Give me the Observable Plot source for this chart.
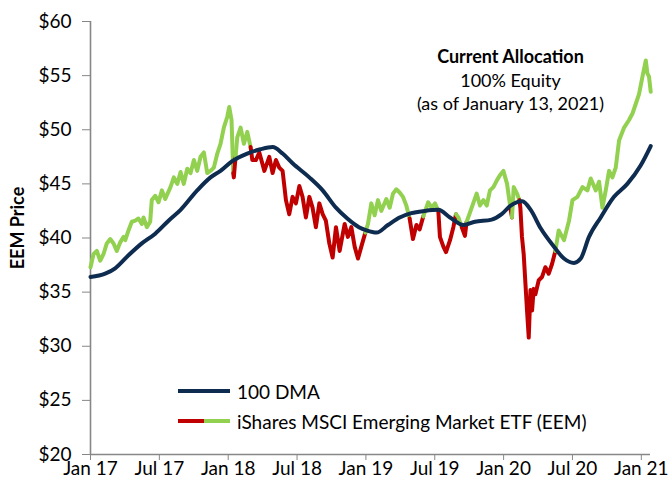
<!DOCTYPE html>
<html>
<head>
<meta charset="utf-8">
<script src="https://cdn.jsdelivr.net/npm/d3@7"></script>
<script src="https://cdn.jsdelivr.net/npm/@observablehq/plot@0.6"></script>
<style>
  body { margin: 0; background: #fff; }
  #wrap { position: relative; width: 669px; height: 491px; font-family: Lato, "Open Sans", sans-serif; }
  .leg { position: absolute; left: 178px; font-size: 19px; color: #000; display: flex; align-items: center; height: 30px; }
  .leg .sw { display: inline-block; height: 4px; }
  .leg span.t { margin-left: 7px; }
</style>
</head>
<body>
<div id="wrap"></div>
<script>
// X axis: months since Jan 2017, tick labels
const xTickMonths = [0, 6, 12, 18, 24, 30, 36, 42, 48];
const xTickLabels = ["Jan 17", "Jul 17", "Jan 18", "Jul 18", "Jan 19", "Jul 19", "Jan 20", "Jul 20", "Jan 21"];
const yTicks = [20, 25, 30, 35, 40, 45, 50, 55, 60];

// EEM price (months since Jan 2017, price)
const priceMonths = [0,0.26,0.55,0.85,1.13,1.42,1.72,2.01,2.29,2.59,
  2.88,3.03,3.31,3.60,3.90,4.18,4.47,4.62,4.91,5.20,
  5.34,5.64,5.93,6.22,6.51,6.97,7.26,7.56,7.85,8.13,
  8.43,8.72,9.01,9.30,9.59,9.88,10.17,10.46,10.75,11.05,
  11.33,11.62,11.92,12.09,12.29,12.44,12.49,12.64,12.79,13.08,
  13.37,13.66,13.95,14.10,14.41,14.71,15.15,15.58,15.87,16.16,
  16.45,16.74,17.03,17.32,17.61,17.90,18.20,18.48,18.77,19.07,
  19.35,19.64,19.94,20.23,20.51,20.81,21.10,21.39,21.71,22.15,
  22.43,22.73,23.02,23.31,23.60,23.95,24.18,24.47,24.76,25.05,
  25.34,25.78,26.07,26.36,26.65,26.94,27.23,27.52,27.81,28.10,
  28.40,28.68,29.00,29.43,29.73,30.02,30.31,30.45,30.75,30.98,
  31.33,31.62,31.85,32.06,32.35,32.63,32.78,33.22,33.65,33.94,
  34.24,34.53,34.81,35.11,35.40,35.68,35.98,36.30,36.59,36.73,
  36.88,37.17,37.38,37.46,37.60,37.75,37.90,38.04,38.19,38.34,
  38.48,38.62,38.77,39.06,39.35,39.64,39.93,40.22,40.51,40.80,
  41.26,41.70,42.00,42.43,42.87,43.30,43.59,44.03,44.32,44.61,
  44.90,45.19,45.48,45.77,46.06,46.50,46.93,47.23,47.52,47.80,
  48.10,48.39,48.53,48.67,48.82];
const priceValues = [37.3,38.5,38.8,37.9,38.5,39.5,39.9,39.5,38.8,39.6,
  40.1,39.8,40.7,41.5,41.6,41.8,41.3,41.9,41.0,41.5,
  43.5,43.9,43.3,44.4,43.6,44.7,45.6,45.0,46.1,45.0,
  46.4,46.0,47.2,46.2,47.5,47.9,46.0,46.2,46.5,47.8,
  48.7,50.2,51.2,52.1,50.9,46.0,45.6,47.5,49.3,50.2,
  48.7,49.8,48.4,47.2,47.2,47.9,46.2,47.5,46.0,47.2,
  46.5,46.2,43.5,42.2,43.8,43.2,44.8,43.8,41.9,43.8,
  42.8,41.0,43.2,42.2,41.6,39.5,38.2,41.0,38.8,41.3,
  40.1,41.0,39.2,38.1,39.2,40.5,41.3,43.2,42.1,43.5,
  42.5,43.6,42.8,44.1,44.5,44.2,43.8,43.0,41.8,39.9,
  41.2,40.8,42.0,43.3,42.8,43.2,42.5,40.1,39.2,38.7,
  39.8,41.0,42.2,41.9,41.0,40.2,41.5,42.8,44.1,43.0,
  43.5,43.0,44.4,44.7,45.3,45.8,46.2,45.0,42.8,41.9,
  44.7,44.1,43.5,42.8,40.1,38.5,35.8,33.3,30.8,35.2,
  33.3,35.3,34.8,36.1,36.4,37.3,36.7,37.6,38.8,40.7,
  39.8,41.6,43.5,43.8,44.7,44.4,45.5,44.4,45.2,42.8,
  44.4,46.2,45.6,46.5,49.0,50.2,50.9,51.5,52.4,53.3,
  54.9,56.4,55.2,54.9,53.5];

// 100-day moving average
const dmaMonths = [0,1.28,2.15,3.31,4.47,5.64,6.80,7.85,9.30,10.46,
  11.33,12.35,13.66,14.82,15.87,16.74,17.61,19.07,20.23,21.39,
  22.38,23.39,24.06,24.93,25.92,26.94,27.96,29.12,30.31,31.33,
  32.50,33.50,34.96,35.83,36.61,37.63,38.36,39.23,40.39,41.26,
  42.13,42.72,43.44,44.46,45.62,46.78,47.94,48.82];
const dmaValues = [36.4,36.7,37.2,38.4,39.5,40.4,41.6,42.6,44.4,45.6,
  46.2,47.1,47.8,48.2,48.4,47.8,46.9,45.6,44.4,42.8,
  41.8,41.0,40.7,40.5,41.2,41.9,42.3,42.5,42.6,41.9,
  41.2,41.5,41.7,42.2,43.0,43.4,42.6,40.9,39.2,38.1,
  37.7,38.1,40.1,41.9,43.8,45.0,46.7,48.5];

const GREEN = "#92D050", RED = "#C00000", NAVY = "#0E2B50";

const price = priceMonths.map((m, i) => ({m, v: priceValues[i]}));
const dma = dmaMonths.map((m, i) => ({m, v: dmaValues[i]}));

function dmaAt(m) {
  let j = 0;
  while (j < dmaMonths.length - 2 && dmaMonths[j + 1] < m) j++;
  const t = (m - dmaMonths[j]) / (dmaMonths[j + 1] - dmaMonths[j]);
  return dmaValues[j] + t * (dmaValues[j + 1] - dmaValues[j]);
}

// Split the price line into runs coloured by position relative to the DMA
const runs = [];
let run = -1, prevColor = null;
for (let i = 0; i < price.length - 1; i++) {
  const a = price[i], b = price[i + 1];
  const mm = (a.m + b.m) / 2, mv = (a.v + b.v) / 2;
  const color = mv >= dmaAt(mm) ? GREEN : RED;
  if (color !== prevColor) {
    run++;
    runs.push({m: a.m, v: a.v, run, color});
    prevColor = color;
  }
  runs.push({m: b.m, v: b.v, run, color});
}

const AX = "#878787";
const chart = Plot.plot({
  width: 669,
  height: 491,
  marginLeft: 90,
  marginRight: 19,
  marginTop: 21,
  marginBottom: 37,
  style: {fontFamily: "Lato, 'Open Sans', sans-serif", fontSize: "19px", color: "#000", background: "#fff", overflow: "visible"},
  x: {domain: [0, 48.8], label: null},
  y: {domain: [20, 60], label: null},
  marks: [
    Plot.axisX(xTickMonths, {tickFormat: d => xTickLabels[xTickMonths.indexOf(d)], tickSize: 6, tickPadding: 1, stroke: AX, label: null, fontSize: 19}),
    Plot.axisY(yTicks, {tickFormat: d => "$" + d, tickSize: 8, tickPadding: 11, stroke: AX, label: null, fontSize: 19}),
    Plot.ruleX([0], {stroke: AX, strokeWidth: 1.6}),
    Plot.ruleY([20], {stroke: AX, strokeWidth: 1.6}),
    Plot.line(runs, {x: "m", y: "v", z: "run", stroke: "color", strokeWidth: 4, strokeLinejoin: "round", strokeLinecap: "round"}),
    Plot.line(dma, {x: "m", y: "v", stroke: NAVY, strokeWidth: 4, curve: "monotone-x", strokeLinejoin: "round", strokeLinecap: "round"}),
    Plot.text(["EEM Price"], {frameAnchor: "left", rotate: -90, dx: -72, dy: -10, fontWeight: "bold", fontSize: 18, textAnchor: "middle"}),
    Plot.text(["Current Allocation"], {frameAnchor: "top-left", lineAnchor: "middle", dx: 420, dy: 36, fontWeight: "bold", fontSize: 18, textAnchor: "middle"}),
    Plot.text(["100% Equity"], {frameAnchor: "top-left", lineAnchor: "middle", dx: 420, dy: 60, fontSize: 18, textAnchor: "middle"}),
    Plot.text(["(as of January 13, 2021)"], {frameAnchor: "top-left", lineAnchor: "middle", dx: 420, dy: 83, fontSize: 18, textAnchor: "middle"})
  ]
});

const wrap = document.getElementById("wrap");
wrap.appendChild(chart);

const legendItems = [
  {label: "100 DMA", colors: [NAVY, NAVY]},
  {label: "iShares MSCI Emerging Market ETF (EEM)", colors: [RED, GREEN]}
];
legendItems.forEach((it, i) => {
  const row = document.createElement("div");
  row.className = "leg";
  row.style.top = (376 + i * 30) + "px";
  it.colors.forEach(c => {
    const s = document.createElement("span");
    s.className = "sw";
    s.style.width = "26px";
    s.style.background = c;
    row.appendChild(s);
  });
  const t = document.createElement("span");
  t.className = "t";
  t.textContent = it.label;
  row.appendChild(t);
  wrap.appendChild(row);
});
</script>
</body>
</html>
